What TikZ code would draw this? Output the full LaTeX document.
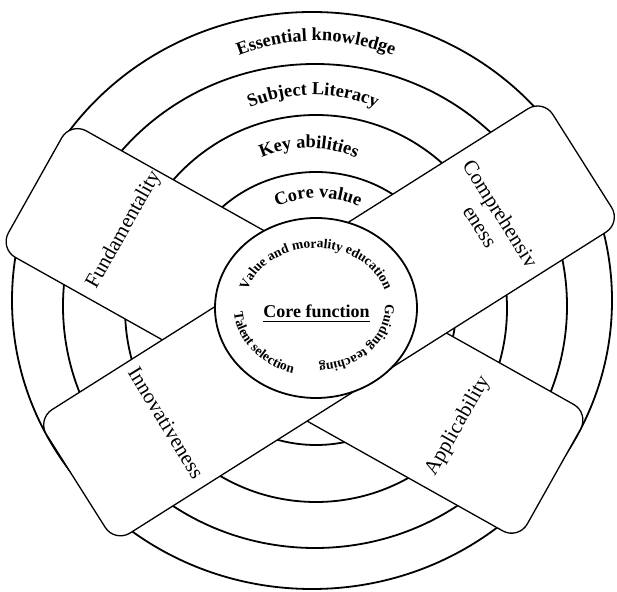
\documentclass[tikz,border=0pt]{standalone}
\usepackage{fontspec}
\setmainfont{Liberation Serif}
\usetikzlibrary{decorations.text, shapes.geometric}

\begin{document}
\begin{tikzpicture}[x=1pt,y=1pt,
  ring/.style={line width=1.8pt},
  band/.style={draw, line width=1.3pt, fill=white, rounded corners=18pt, inner sep=0pt},
  bandlabel/.style={font=\fontsize{21}{24}\selectfont, align=center, inner sep=0pt},
  ringtext/.style={decorate, decoration={text along path, text align=center, text={#1}}},
]
\useasboundingbox[fill=white] (0,0) rectangle (617,591);

% concentric rings
\draw[ring] (312,290.5) ellipse [x radius=300pt, y radius=288.5pt];
\draw[ring] (315,285) ellipse [x radius=252pt, y radius=242pt];
\draw[ring] (316,282.5) ellipse [x radius=191pt, y radius=193.5pt];
\draw[ring] (316,282.5) ellipse [x radius=140pt, y radius=136.5pt];

% ring labels
\path[ringtext={|\fontsize{18.3}{18}\selectfont\bfseries|Essential knowledge}]
  (316,340) ++(150:210pt) arc[start angle=150, end angle=30, radius=210pt];
\path[ringtext={|\fontsize{18.3}{18}\selectfont\bfseries|Subject Literacy}]
  (313,334) ++(145:162pt) arc[start angle=145, end angle=35, radius=162pt];
\path[ringtext={|\fontsize{18.3}{18}\selectfont\bfseries|Key abilities}]
  (309,325) ++(140:118pt) arc[start angle=140, end angle=40, radius=118pt];
\path[ringtext={|\fontsize{18.3}{18}\selectfont\bfseries|Core value}]
  (318,293) ++(140:100pt) arc[start angle=140, end angle=40, radius=100pt];

% crossing bands
\node[band, minimum width=595pt, minimum height=145pt, rotate=-29.3] (bandA) at (294.5,260.1) {};
\node[band, minimum width=599pt, minimum height=146pt, rotate=32.3] (bandB) at (329,270.1) {};

% core ellipse
\node[draw, ellipse, line width=1.8pt, fill=white, minimum width=202pt, minimum height=180pt, inner sep=0pt] (core) at (316,283) {};

\node[font=\fontsize{18}{18}\selectfont\bfseries, inner sep=0pt, anchor=base] (cf) at (316.5,273) {Core function};
\draw[line width=1.1pt] ([yshift=-3.5pt]cf.base west) -- ([yshift=-3.5pt]cf.base east);

\path[ringtext={|\fontsize{13.5}{13.5}\selectfont\bfseries|Value and morality education}]
  (316,283) ++(179:72pt and 60pt) arc[start angle=179, end angle=1, x radius=72pt, y radius=60pt];
\path[ringtext={|\fontsize{13.5}{13.5}\selectfont\bfseries|Talent selection}]
  (316,283) ++(150:82pt and 68pt) arc[start angle=150, end angle=282, x radius=82pt, y radius=68pt];
\path[ringtext={|\fontsize{13.5}{13.5}\selectfont\bfseries|Guiding teaching}]
  (316,283) ++(25:69pt and 56pt) arc[start angle=25, end angle=-105, x radius=69pt, y radius=56pt];

% band labels
\node[bandlabel, rotate=60.7] (fund) at (124,361) {Fundamentality};
\node[bandlabel, rotate=60.3] (appl) at (458,165) {Applicability};
\node[bandlabel, rotate=-57.7] (comp) at (490.5,371) {Comprehensiv\\eness};
\node[bandlabel, rotate=-58.5] (innov) at (166,168) {Innovativeness};
\end{tikzpicture}
\end{document}
